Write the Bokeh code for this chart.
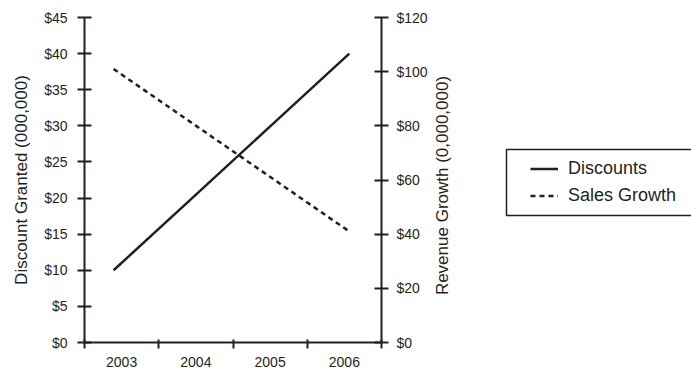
import math
from bokeh.plotting import figure
from bokeh.layouts import row
from bokeh.models import (Range1d, LinearAxis, FixedTicker, NumeralTickFormatter,
                          Legend, LegendItem, BoxAnnotation, ColumnDataSource, Label)
from bokeh.embed import file_html
from bokeh.resources import INLINE

years = ["2003", "2004", "2005", "2006"]
discounts = [10, 20, 30, 40]
sales_growth = [101, 81, 61, 41]
left_ticks = [0, 5, 10, 15, 20, 25, 30, 35, 40, 45]
right_ticks = [0, 20, 40, 60, 80, 100, 120]
series_names = ["Discounts", "Sales Growth"]
left_title = "Discount Granted (000,000)"
right_title = "Revenue Growth (0,000,000)"

FONT = "'Liberation Sans Narrow', 'Liberation Sans', Arial, sans-serif"
INK = "#231f20"

idx = list(range(len(years)))
src = ColumnDataSource(dict(i=idx, disc=discounts, sales=sales_growth))

p = figure(width=430, height=370, output_backend="svg", toolbar_location=None,
           x_range=Range1d(0, len(years)), y_range=Range1d(0, 45),
           min_border_left=84, min_border_right=49, min_border_top=17,
           min_border_bottom=28, x_axis_location=None, y_axis_location=None)
p.extra_y_ranges = {"rev": Range1d(0, 120)}
p.extra_x_ranges = {"pts": Range1d(-0.37, len(years) - 1 + 0.41)}
p.grid.visible = False
p.outline_line_color = None

p.line("i", "disc", source=src, x_range_name="pts", line_color=INK, line_width=2.5)
p.line("i", "sales", source=src, x_range_name="pts", y_range_name="rev",
       line_color=INK, line_width=2.5, line_dash="5 4")

def style(ax, size="14px"):
    ax.axis_line_color = INK
    ax.axis_line_width = 2
    ax.major_tick_line_color = INK
    ax.major_tick_line_width = 2
    ax.minor_tick_line_color = INK
    ax.minor_tick_line_width = 2
    ax.major_label_text_font = FONT
    ax.major_label_text_font_size = size
    ax.major_label_text_color = INK
    ax.axis_label_text_font = FONT
    ax.axis_label_text_font_style = "normal"
    ax.axis_label_text_font_size = "17px"
    ax.axis_label_text_color = INK

ly = LinearAxis(ticker=FixedTicker(ticks=left_ticks, minor_ticks=[]),
                formatter=NumeralTickFormatter(format="$0"),
                axis_label=left_title)
style(ly)
ly.major_tick_in = 7
ly.major_tick_out = 7
ly.major_label_standoff = 10
ly.axis_label_standoff = 10
p.add_layout(ly, "left")

ry = LinearAxis(y_range_name="rev", ticker=FixedTicker(ticks=right_ticks, minor_ticks=[]),
                formatter=NumeralTickFormatter(format="$0"))
style(ry)
ry.major_tick_in = 7
ry.major_tick_out = 7
ry.major_label_standoff = 8
p.add_layout(ry, "right")

centers = [i + 0.5 for i in idx]
bounds = list(range(len(years) + 1))
bx = LinearAxis(ticker=FixedTicker(ticks=centers, minor_ticks=bounds),
                major_label_overrides={c: y for c, y in zip(centers, years)})
style(bx)
bx.major_tick_in = 0
bx.major_tick_out = 0
bx.minor_tick_in = 3
bx.minor_tick_out = 6
bx.major_label_standoff = 8
p.add_layout(bx, "below")

# side panel: right-axis title + legend (frame aligned with the main frame, 325 px tall)
q = figure(width=261, height=370, output_backend="svg", toolbar_location=None,
           x_range=Range1d(0, 261), y_range=Range1d(0, 325),
           min_border_left=0, min_border_right=0, min_border_top=17, min_border_bottom=28,
           x_axis_location=None, y_axis_location=None)
q.grid.visible = False
q.outline_line_color = None
q.extra_x_ranges = {"off": Range1d(1000, 1001)}
d1 = q.line(x=idx, y=discounts, x_range_name="off", line_color=INK, line_width=2.5)
d2 = q.line(x=idx, y=sales_growth, x_range_name="off", line_color=INK,
            line_width=2.5, line_dash="5 4")

q.add_layout(Label(x=12, y=157, text=right_title, angle=math.pi / 2,
                   text_align="center", text_baseline="middle",
                   text_font=FONT, text_font_size="17px", text_color=INK))

legend = Legend(items=[LegendItem(label=series_names[0], renderers=[d1]),
                       LegendItem(label=series_names[1], renderers=[d2])],
                location=(100, 133), border_line_color=None, background_fill_alpha=0,
                padding=0, spacing=0, margin=0, glyph_width=28, glyph_height=27,
                label_height=27, label_standoff=10,
                label_text_font=FONT, label_text_font_size="18px", label_text_color=INK)
q.add_layout(legend, "center")

box = BoxAnnotation(left=76, right=263, bottom=127, top=193,
                    fill_alpha=0, line_color=INK, line_alpha=1, line_width=1.5)
q.add_layout(box)

open("out.html", "w").write(file_html(row(p, q), INLINE))
